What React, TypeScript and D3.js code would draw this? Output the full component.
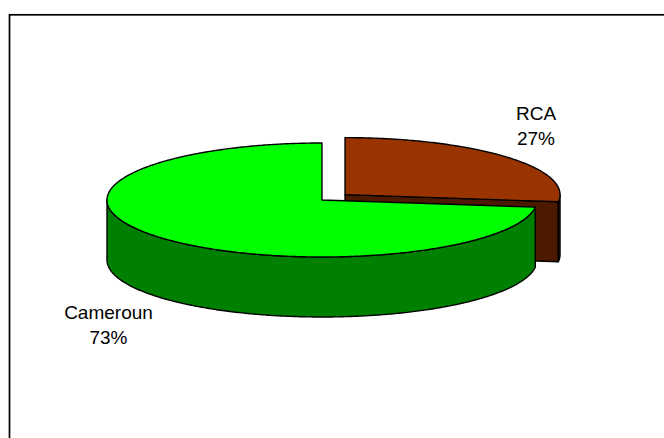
import React from "react";
import * as d3 from "d3";

// Share of each country, in percent
const categories = ["RCA", "Cameroun"];
const values = [27, 73];
const topColors = ["#993300", "#00FF00"];
const sideColors = ["#4D1A00", "#008000"];

const W = 664;
const H = 438;

// Pie geometry (projected ellipse)
const CX = 322;
const CY = 200;
const RX = 215;
const RY = 57;
const DEPTH = 60;
const EXPLODE = 30.7; // pull-out of the first slice, along its mid angle (in rx units)

// Label anchors (centre of the text block, first baseline)
const labelPos: Record<string, [number, number]> = {
  RCA: [536, 119.5],
  Cameroun: [108.5, 318.5],
};

type Pt = [number, number];

function ellipsePt(cx: number, cy: number, a: number): Pt {
  return [cx + RX * Math.sin(a), cy - RY * Math.cos(a)];
}

function arcPts(cx: number, cy: number, a0: number, a1: number): Pt[] {
  const n = Math.max(2, Math.ceil(Math.abs(a1 - a0) / 0.01));
  return d3.range(n + 1).map((i) => ellipsePt(cx, cy, a0 + ((a1 - a0) * i) / n));
}

const line = d3.line<Pt>().x((d) => d[0]).y((d) => d[1]).curve(d3.curveLinearClosed);

export default function App() {
  const pie = d3
    .pie<number>()
    .sort(null)
    .value((d) => d);
  const arcs = pie(values);
  const total = d3.sum(values);

  const slices = arcs.map((arc, i) => {
    const mid = (arc.startAngle + arc.endAngle) / 2;
    const off = i === 0 ? EXPLODE : 0;
    const cx = CX + off * Math.sin(mid);
    const cy = CY - off * (RY / RX) * Math.cos(mid);
    const a0 = arc.startAngle;
    const a1 = arc.endAngle;

    const parts: { d: string; fill: string }[] = [];

    // radial wall on the end edge when it faces the viewer (0 < a1 < PI)
    if (a1 > 0 && a1 < Math.PI) {
      const p = ellipsePt(cx, cy, a1);
      parts.push({
        d: line([
          [cx, cy],
          p,
          [p[0], p[1] + DEPTH],
          [cx, cy + DEPTH],
        ])!,
        fill: sideColors[i],
      });
    }
    // radial wall on the start edge when it faces the viewer (PI < a0 < 2PI)
    if (a0 > Math.PI && a0 < 2 * Math.PI) {
      const p = ellipsePt(cx, cy, a0);
      parts.push({
        d: line([
          [cx, cy],
          p,
          [p[0], p[1] + DEPTH],
          [cx, cy + DEPTH],
        ])!,
        fill: sideColors[i],
      });
    }
    // outer rim, front half only (PI/2 .. 3PI/2)
    const f0 = Math.max(a0, Math.PI / 2);
    const f1 = Math.min(a1, (3 * Math.PI) / 2);
    if (f1 > f0) {
      const top = arcPts(cx, cy, f0, f1);
      const bottom = top.map((p) => [p[0], p[1] + DEPTH] as Pt).reverse();
      parts.push({ d: line([...top, ...bottom])!, fill: sideColors[i] });
    }
    // top face
    const topFace: Pt[] = [[cx, cy], ...arcPts(cx, cy, a0, a1)];
    parts.push({ d: line(topFace)!, fill: topColors[i] });

    const pct = Math.round((values[i] / total) * 100) + "%";
    return { key: categories[i], parts, pct };
  });

  return (
    <svg
      width={W}
      height={H}
      viewBox={`0 0 ${W} ${H}`}
      style={{ position: "absolute", left: 0, top: 0, display: "block", background: "#fff" }}
    >
      <rect x={9.5} y={14.8} width={W + 40} height={H + 40} fill="#fff" stroke="#000" strokeWidth={1.7} />
      {slices.map((s) => (
        <g key={s.key}>
          {s.parts.map((p, j) => (
            <path key={j} d={p.d} fill={p.fill} stroke="#000" strokeWidth={1.4} strokeLinejoin="round" />
          ))}
        </g>
      ))}
      {slices.map((s) => {
        const [x, y] = labelPos[s.key];
        return (
          <text
            key={s.key + "-label"}
            x={x}
            y={y}
            textAnchor="middle"
            fontFamily="'Liberation Sans', Arial, sans-serif"
            fontSize={19}
            fill="#000"
          >
            <tspan x={x} y={y}>{s.key}</tspan>
            <tspan x={x} y={y + 25.5}>{s.pct}</tspan>
          </text>
        );
      })}
    </svg>
  );
}
